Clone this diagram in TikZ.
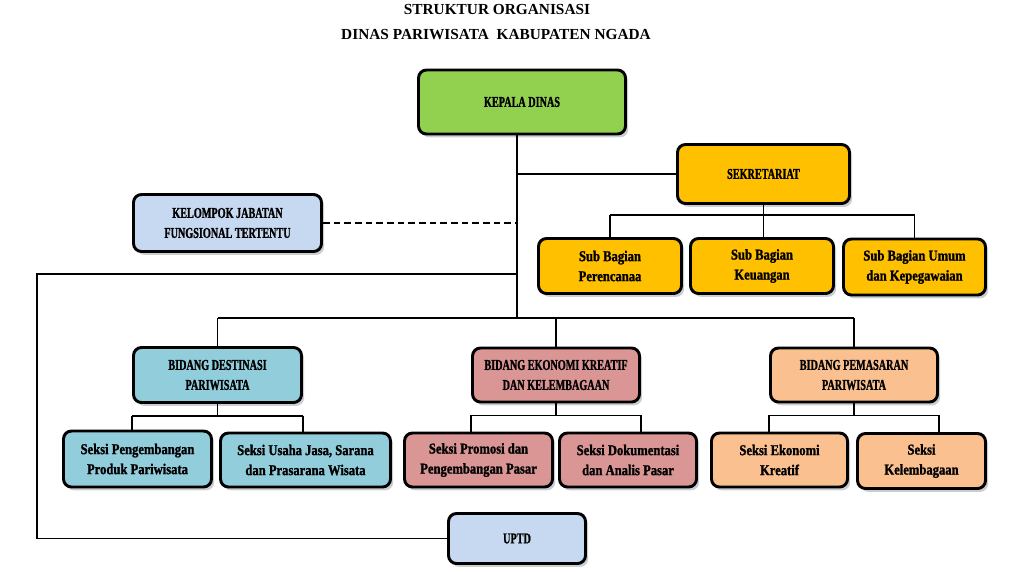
\documentclass[tikz,border=0pt]{standalone}
\usepackage{fontspec}
\setmainfont{Liberation Serif}
\newfontfamily\capfont[FakeStretch=0.68, FakeBold=1.2]{Liberation Serif}
\newfontfamily\lowfont[FakeStretch=0.84, FakeBold=1.2]{Liberation Serif}
\usepackage{tikz}
\usetikzlibrary{shadows}

\definecolor{hijau}{HTML}{92D050}
\definecolor{kuning}{HTML}{FFC000}
\definecolor{pucat}{HTML}{C6D9F1}
\definecolor{tosca}{HTML}{92CDDC}
\definecolor{merah}{HTML}{D99694}
\definecolor{jingga}{HTML}{FAC090}
\definecolor{bayang}{RGB}{150,158,165}

\begin{document}
\begin{tikzpicture}[x=0.75pt, y=-0.75pt,
  kotak/.style={draw, line width=2.2pt, rounded corners=6pt, align=center, inner sep=0pt,
    font=\fontsize{11.25}{15}\selectfont\bfseries,
    drop shadow={shadow xshift=2pt, shadow yshift=-2.5pt, fill=bayang}},
  ukuran/.style 2 args={minimum width=#1*0.75pt, minimum height=#2*0.75pt},
  garis/.style={line width=1pt},
  judul/.style={font=\fontsize{11.5}{14}\selectfont\bfseries, anchor=base}]
\useasboundingbox (0,0) rectangle (1030,571);

\node[judul] (judul1) at (497,14) {STRUKTUR ORGANISASI};
\node[judul] (judul2) at (496,39) {DINAS PARIWISATA\ \ KABUPATEN NGADA};

\node[kotak, fill=hijau, ukuran={207}{64}] (kepala) at (522,102) {\capfont KEPALA DINAS};
\node[kotak, fill=kuning, ukuran={172}{59}] (sekre) at (763.5,174) {\capfont SEKRETARIAT};
\node[kotak, fill=pucat, ukuran={188}{57}] (kelompok) at (227.5,223) {\capfont KELOMPOK JABATAN\\\capfont FUNGSIONAL TERTENTU};

\node[kotak, fill=kuning, ukuran={143}{55}] (subren) at (610,266) {\lowfont Sub Bagian\\\lowfont Perencanaa};
\node[kotak, fill=kuning, ukuran={143}{55}] (subkeu) at (762,266) {\lowfont Sub Bagian\\\lowfont Keuangan};
\node[kotak, fill=kuning, ukuran={142}{56}] (subumum) at (914.5,267) {\lowfont Sub Bagian Umum\\\lowfont dan Kepegawaian};

\node[kotak, fill=tosca, ukuran={168}{55}] (destinasi) at (217.5,375) {\capfont BIDANG DESTINASI\\\capfont PARIWISATA};
\node[kotak, fill=merah, ukuran={167}{54}] (ekonomi) at (556,375) {\capfont BIDANG EKONOMI KREATIF\\\capfont DAN KELEMBAGAAN};
\node[kotak, fill=jingga, ukuran={167}{54}] (pemasaran) at (854,375) {\capfont BIDANG PEMASARAN\\\capfont PARIWISATA};

\node[kotak, fill=tosca, ukuran={148}{56}] (seksi1) at (137.5,459) {\lowfont Seksi Pengembangan\\\lowfont Produk Pariwisata};
\node[kotak, fill=tosca, ukuran={170}{54}] (seksi2) at (305.5,460) {\lowfont Seksi Usaha Jasa, Sarana\\\lowfont dan Prasarana Wisata};
\node[kotak, fill=merah, ukuran={148}{54}] (seksi3) at (478.5,460) {\lowfont Seksi Promosi dan\\\lowfont Pengembangan Pasar};
\node[kotak, fill=merah, ukuran={137}{54}] (seksi4) at (628,460) {\lowfont Seksi Dokumentasi\\\lowfont dan Analis Pasar};
\node[kotak, fill=jingga, ukuran={136}{54}] (seksi5) at (779.5,460) {\lowfont Seksi Ekonomi\\\lowfont Kreatif};
\node[kotak, fill=jingga, ukuran={128}{55}] (seksi6) at (921.5,461) {\lowfont Seksi\\\lowfont Kelembagaan};

\node[kotak, fill=pucat, ukuran={137}{50}] (uptd) at (517,538.5) {\capfont UPTD};

\coordinate (bus) at (517,318);
\coordinate (kiri) at (37,274);
\coordinate (sb) at (764,215);

\draw[garis] (kepala.south -| bus) -- (bus);
\draw[garis] (sekre.west -| bus) -- (sekre.west);
\draw[garis, dash pattern=on 5pt off 3pt] (kelompok.east) -- (kelompok.east -| bus);
\draw[garis] (kiri -| bus) -- (kiri) |- (uptd.west);

\draw[garis] (destinasi.north |- bus) -- (pemasaran.north |- bus);
\foreach \b in {destinasi, ekonomi, pemasaran}
  \draw[garis] (\b.north |- bus) -- (\b.north);

\draw[garis] (sekre.south) -- (sekre.south |- subkeu.north);
\draw[garis] (subren.north |- sb) -- (subumum.north |- sb);
\foreach \s in {subren, subumum}
  \draw[garis] (\s.north |- sb) -- (\s.north);

\foreach \b/\l/\r in {destinasi/seksi1/seksi2, ekonomi/seksi3/seksi4, pemasaran/seksi5/seksi6} {
  \draw[garis] (\b.south) -- ++(0,12) coordinate (\b-bus);
  \draw[garis] (\b.south west |- \b-bus) -- (\b.south east |- \b-bus);
  \draw[garis] (\b.south west |- \b-bus) -- (\b.south west |- \l.north);
  \draw[garis] (\b.south east |- \b-bus) -- (\b.south east |- \r.north);
}
\end{tikzpicture}
\end{document}
